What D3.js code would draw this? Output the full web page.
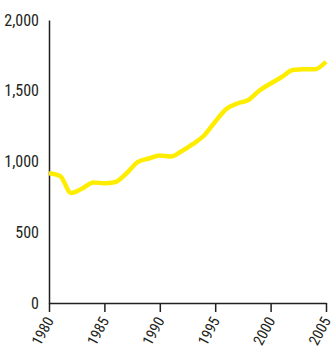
<!DOCTYPE html>
<html>
<head>
<meta charset="utf-8">
<script src="https://cdn.jsdelivr.net/npm/d3@7"></script>
<style>
  html, body { margin: 0; padding: 0; background: #fff; }
  svg text { font-family: "Liberation Sans Narrow", "Roboto Condensed", "Liberation Sans", sans-serif; fill: #231f20; }
</style>
</head>
<body>
<svg id="chart" width="334" height="349"></svg>
<script>
// Annual values, 1980–2005
const years = [1980, 1981, 1982, 1983, 1984, 1985, 1986, 1987, 1988, 1989, 1990,
               1991, 1992, 1993, 1994, 1995, 1996, 1997, 1998, 1999, 2000,
               2001, 2002, 2003, 2004, 2005];
const values = [917, 898, 777, 809, 852, 846, 855, 917, 996, 1021, 1042,
                1035, 1074, 1124, 1184, 1281, 1371, 1410, 1435, 1502, 1551,
                1597, 1647, 1652, 1652, 1705];
const yTicks = [0, 500, 1000, 1500, 2000];
const xTicks = [1980, 1985, 1990, 1995, 2000, 2005];

const svg = d3.select("#chart");
const plot = { left: 49, right: 326, top: 20, bottom: 303 };

const x = d3.scaleLinear().domain([1980, 2005]).range([plot.left, plot.right]);
const y = d3.scaleLinear().domain([0, 2000]).range([plot.bottom, plot.top]);

// y axis: line only, labels on the left
const yAxis = svg.append("g").attr("transform", `translate(${plot.left},0)`)
  .call(d3.axisLeft(y).tickValues(yTicks).tickSize(0).tickPadding(10).tickFormat(d3.format(",")));
yAxis.select(".domain").attr("stroke", "#231f20").attr("stroke-width", 1.5);
yAxis.selectAll("text").attr("font-size", 16);

// x axis with rotated year labels
const xAxis = svg.append("g").attr("transform", `translate(0,${plot.bottom})`)
  .call(d3.axisBottom(x).tickValues(xTicks).tickSize(9).tickSizeOuter(0).tickFormat(d3.format("d")));
xAxis.select(".domain").attr("stroke", "#231f20").attr("stroke-width", 1.5);
xAxis.selectAll(".tick line").attr("stroke", "#231f20").attr("stroke-width", 1.5);
xAxis.selectAll("text")
  .attr("font-size", 15)
  .attr("text-anchor", "end")
  .attr("x", 0).attr("y", 0).attr("dy", "0.35em")
  .attr("transform", "translate(0,15) rotate(-62)");

// data line
const line = d3.line()
  .x((d, i) => x(years[i]))
  .y(d => y(d))
  .curve(d3.curveMonotoneX);

svg.append("path")
  .datum(values)
  .attr("fill", "none")
  .attr("stroke", "#ffed00")
  .attr("stroke-width", 4.5)
  .attr("stroke-linejoin", "round")
  .attr("d", line);
</script>
</body>
</html>
